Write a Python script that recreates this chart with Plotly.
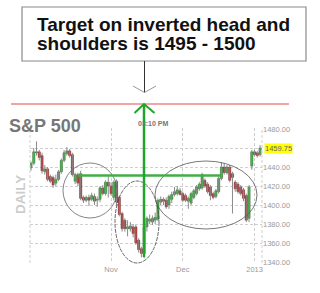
import plotly.graph_objects as go

# ---- data ----
opens  = [1439,1444,1456,1456,1452,1435,1438,1430,1429,1423,1427,1435,1447,1454,1457,1453,1425,1432,1433,1408,
          1405,1408,1406,1409,1405,1406,1418,1412,1424,1420,1408,1425,1408,1391,1384,1375,1375,1377,1377,1363,
          1354,1349,1377,1383,1382,1384,1385,1403,1406,1405,1400,1406,1411,1412,1415,1412,1410,1404,1402,1408,
          1412,1417,1418,1426,1422,1419,1412,1409,1414,1428,1440,1434,1440,1433,1424,1422,1419,1416,1410,1386,
          1441,1456,1455,1453]
highs  = [1446,1460,1467,1458,1455,1442,1440,1432,1431,1432,1437,1449,1458,1461,1459,1455,1434,1434,1436,1410,
          1410,1411,1413,1412,1409,1420,1421,1426,1430,1424,1426,1427,1410,1393,1386,1384,1382,1380,1379,1365,
          1356,1378,1388,1390,1389,1392,1407,1409,1408,1408,1411,1414,1419,1420,1418,1414,1412,1409,1414,1417,
          1421,1424,1434,1428,1424,1421,1414,1417,1430,1445,1444,1442,1442,1435,1426,1424,1421,1418,1412,1421,
          1458,1458,1457,1463]
lows   = [1436,1442,1452,1447,1433,1432,1425,1423,1418,1420,1425,1433,1445,1452,1450,1430,1422,1420,1405,1402,
          1403,1399,1404,1400,1398,1403,1410,1410,1408,1410,1405,1400,1388,1372,1372,1367,1372,1366,1358,1350,
          1345,1344,1372,1380,1379,1380,1383,1400,1400,1396,1396,1402,1409,1410,1410,1403,1403,1396,1400,1406,
          1410,1415,1416,1418,1412,1405,1406,1407,1412,1426,1432,1432,1424,1391,1414,1412,1410,1404,1382,1382,
          1437,1451,1450,1451]
closes = [1444,1456,1455,1450,1436,1438,1427,1425,1421,1427,1435,1447,1455,1457,1452,1432,1432,1423,1407,1405,
          1408,1405,1410,1404,1406,1418,1412,1424,1420,1412,1424,1403,1390,1375,1375,1377,1378,1370,1360,1353,
          1349,1377,1386,1385,1386,1387,1405,1406,1404,1398,1409,1411,1414,1416,1411,1405,1405,1407,1412,1415,
          1419,1422,1432,1420,1414,1410,1408,1415,1428,1440,1434,1440,1426,1429,1417,1414,1412,1407,1384,1419,
          1456,1453,1452,1460]
month_labels = ["Nov", "Dec", "2013"]
month_start_index = [29, 55, 81]
y_ticks = [1340, 1360, 1380, 1400, 1420, 1440, 1460, 1480]
last_price = 1459.75
neckline = 1431

x = list(range(len(opens)))

# ---- layout geometry (pixels of the 320x293 canvas) ----
W, H = 320, 293
L, R, T, B = 30, 58, 128, 30
PW, PH = W - L - R, H - T - B
def px(v):  # canvas x pixel -> paper
    return (v - L) / PW
def py(v):  # canvas y pixel -> paper
    return (H - B - v) / PH

# wicks
wx, wy = [], []
for i, h, l in zip(x, highs, lows):
    wx += [i, i, None]
    wy += [l, h, None]
# bodies
base = [min(o, c) for o, c in zip(opens, closes)]
span = [max(abs(c - o), 0.8) for o, c in zip(opens, closes)]
cols = ["#00e000" if c >= o else "#ee0000" for o, c in zip(opens, closes)]

fig = go.Figure()
fig.add_trace(go.Scatter(x=wx, y=wy, mode="lines", line=dict(color="#8a8a8a", width=1),
                         hoverinfo="skip", showlegend=False))
fig.add_trace(go.Bar(x=x, y=span, base=base, width=0.78, marker=dict(color=cols,
                     line=dict(color="#404040", width=0.5)),
                     hoverinfo="skip", showlegend=False))

grid = "#cfcfcf"
fig.update_layout(
    width=W, height=H,
    margin=dict(l=L, r=R, t=T, b=B, pad=0),
    paper_bgcolor="white", plot_bgcolor="white",
    font=dict(family="Liberation Sans, Arial, sans-serif"),
    showlegend=False,
    xaxis=dict(
        range=[-0.36, len(opens) - 0.3],
        tickvals=month_start_index, ticktext=month_labels,
        showgrid=True, gridcolor=grid, griddash="3px,2px", gridwidth=1,
        zeroline=False, showline=False, ticks="",
        tickfont=dict(size=7.5, color="#9a9a9a"),
        fixedrange=True,
    ),
    yaxis=dict(
        side="right",
        range=[1338.95, 1481.05],
        tickvals=y_ticks,
        ticktext=["" if v == 1460 else f"{v:.2f}" for v in y_ticks],
        showgrid=True, gridcolor=grid, griddash="3px,2px", gridwidth=1,
        zeroline=False, showline=False, ticks="",
        tickfont=dict(size=7.5, color="#9a9a9a"),
        fixedrange=True,
    ),
)

shapes = []
for xv in (0, 1):
    shapes.append(dict(type="line", xref="paper", yref="paper", x0=xv, x1=xv, y0=0, y1=1,
                       line=dict(color=grid, width=1, dash="3px,2px")))
shapes.append(dict(type="rect", xref="paper", yref="paper",
                   x0=px(22), x1=px(306), y0=py(61), y1=py(7),
                   line=dict(color="#8a8a8a", width=1.2), fillcolor="white"))
shapes.append(dict(type="line", xref="paper", yref="paper", x0=px(144.5), x1=px(144.5),
                   y0=py(61), y1=py(92.5), line=dict(color="#333", width=1)))
shapes.append(dict(type="path", xref="paper", yref="paper",
                   path=f"M {px(133)} {py(86)} L {px(144.5)} {py(92.5)} L {px(156)} {py(86)}",
                   line=dict(color="#999", width=1)))
shapes.append(dict(type="line", xref="paper", yref="paper", x0=px(11), x1=px(289),
                   y0=py(104), y1=py(104), line=dict(color="#f2a5a5", width=2)))
shapes.append(dict(type="circle", xref="paper", yref="paper",
                   x0=px(63), x1=px(117), y0=py(218), y1=py(163),
                   line=dict(color="#666", width=0.8)))
shapes.append(dict(type="circle", xref="paper", yref="paper",
                   x0=px(115), x1=px(159), y0=py(263), y1=py(181),
                   line=dict(color="#444", width=0.8, dash="4px,1px")))
shapes.append(dict(type="circle", xref="paper", yref="paper",
                   x0=px(155), x1=px(257), y0=py(229), y1=py(161),
                   line=dict(color="#555", width=0.8)))
shapes.append(dict(type="line", xref="paper", yref="y", x0=px(78), x1=px(220),
                   y0=neckline, y1=neckline, line=dict(color="#3fae49", width=2.5)))
shapes.append(dict(type="line", xref="paper", yref="paper", x0=px(144), x1=px(144),
                   y0=py(257), y1=py(104), line=dict(color="#1ea52a", width=2.5)))
shapes.append(dict(type="path", xref="paper", yref="paper",
                   path=f"M {px(134.5)} {py(113)} L {px(144)} {py(104)} L {px(154.5)} {py(113)}",
                   line=dict(color="#1ea52a", width=2)))
fig.update_layout(shapes=shapes)

ann = []
ann.append(dict(xref="paper", yref="paper", x=px(35), y=py(24), xanchor="left", yanchor="middle",
                text="<b>Target on inverted head and</b>", showarrow=False,
                font=dict(size=19, color="#111", family="Liberation Sans, Arial")))
ann.append(dict(xref="paper", yref="paper", x=px(35), y=py(43.5), xanchor="left", yanchor="middle",
                text="<b>shoulders is 1495 - 1500</b>", showarrow=False,
                font=dict(size=19, color="#111", family="Liberation Sans, Arial")))
ann.append(dict(xref="paper", yref="paper", x=px(7), y=py(126), xanchor="left", yanchor="middle",
                text="<b>S&P 500</b>", showarrow=False,
                font=dict(size=18, color="#777", family="Liberation Sans, Arial")))
ann.append(dict(xref="paper", yref="paper", x=px(20), y=py(195), xanchor="center", yanchor="middle",
                text="<b>DAILY</b>", showarrow=False, textangle=-90,
                font=dict(size=13.5, color="#cccccc", family="Liberation Sans, Arial")))
ann.append(dict(xref="paper", yref="paper", x=px(153), y=py(123), xanchor="center", yanchor="middle",
                text="<b>03:10 PM</b>", showarrow=False,
                font=dict(size=7, color="#777", family="Liberation Sans, Arial")))
ann.append(dict(xref="paper", yref="y", x=1, y=last_price, xanchor="left", yanchor="middle",
                xshift=2, text=f"{last_price:.2f}", showarrow=False, bgcolor="#ffff00", borderpad=0,
                font=dict(size=7.5, color="#666", family="Liberation Sans, Arial")))
fig.update_layout(annotations=ann)

fig.write_html("out.html", config={"displayModeBar": False})
